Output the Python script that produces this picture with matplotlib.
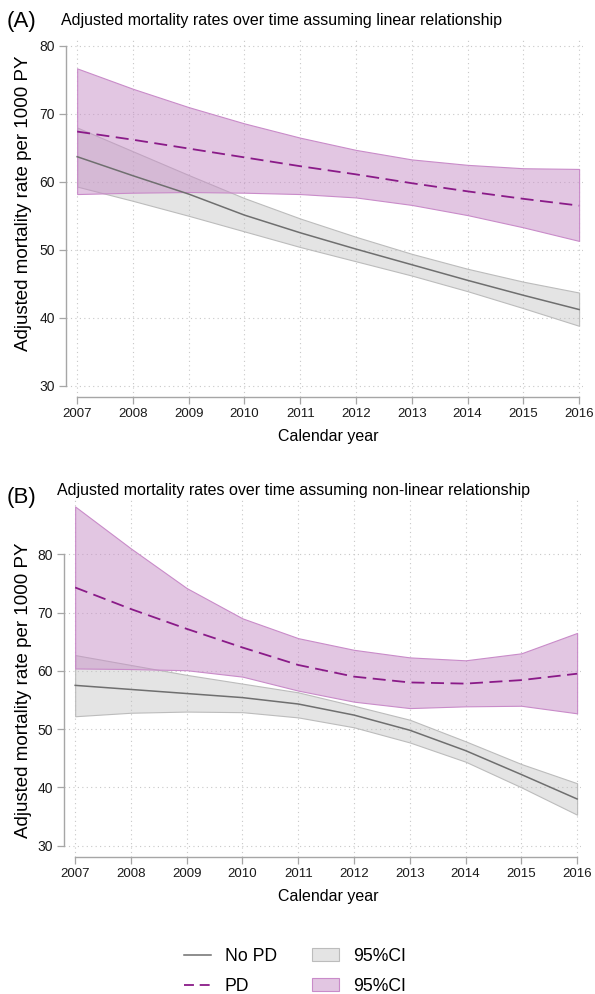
import matplotlib
matplotlib.use('Agg')
import matplotlib.pyplot as plt
from matplotlib.lines import Line2D
from matplotlib.patches import Patch

plt.rcParams['font.family'] = ['Liberation Sans', 'DejaVu Sans']

years = [2007, 2008, 2009, 2010, 2011, 2012, 2013, 2014, 2015, 2016]
yticks = [30, 40, 50, 60, 70, 80]

# (A) linear relationship
nopd_a = [63.7, 60.9, 58.2, 55.1, 52.5, 50.1, 47.8, 45.5, 43.3, 41.2]
nopd_a_lo = [59.3, 57.2, 55.0, 52.7, 50.4, 48.3, 46.2, 43.9, 41.4, 38.8]
nopd_a_hi = [68.0, 64.5, 61.0, 57.6, 54.6, 51.9, 49.4, 47.2, 45.3, 43.7]
pd_a = [67.4, 66.2, 64.9, 63.6, 62.3, 61.1, 59.8, 58.6, 57.5, 56.5]
pd_a_lo = [58.2, 58.4, 58.5, 58.4, 58.2, 57.7, 56.6, 55.1, 53.3, 51.3]
pd_a_hi = [76.7, 73.7, 71.0, 68.6, 66.5, 64.7, 63.3, 62.5, 62.0, 61.9]

# (B) non-linear relationship
nopd_b = [57.5, 56.8, 56.1, 55.4, 54.3, 52.4, 49.8, 46.3, 42.2, 38.0]
nopd_b_lo = [52.2, 52.8, 53.0, 52.9, 52.0, 50.3, 47.7, 44.4, 40.0, 35.3]
nopd_b_hi = [62.7, 61.0, 59.3, 57.8, 56.3, 54.0, 51.6, 47.9, 44.0, 40.7]
pd_b = [74.3, 70.6, 67.2, 64.0, 61.0, 59.0, 58.0, 57.8, 58.4, 59.5]
pd_b_lo = [60.4, 60.3, 60.1, 59.0, 56.6, 54.7, 53.6, 53.9, 54.0, 52.7]
pd_b_hi = [88.2, 81.0, 74.2, 69.0, 65.6, 63.6, 62.3, 61.8, 63.0, 66.5]

grey_line = '#6f6f6f'
grey_fill = (0.75, 0.75, 0.75, 0.42)
grey_edge = '#bcbcbc'
pd_line = '#8a1a88'
pd_fill = (0.78, 0.56, 0.78, 0.5)
pd_edge = '#c98bc9'
axis_col = '#a6a6a6'

W, H = 595, 994
fig = plt.figure(figsize=(W / 100, H / 100), dpi=100)


def make_axes(left, right, top, bottom):
    return fig.add_axes([left / W, 1 - bottom / H, (right - left) / W, (bottom - top) / H])


def draw_panel(ax, lo, hi, nopd, plo, phi, pd, ylim, letter, title, ly, tx, ty, xlab_y, ylab_y):
    ax.fill_between(years, lo, hi, facecolor=grey_fill, edgecolor=grey_edge, lw=0.8, zorder=2)
    ax.fill_between(years, plo, phi, facecolor=pd_fill, edgecolor=pd_edge, lw=0.8, zorder=3)
    ax.plot(years, nopd, color=grey_line, lw=1.1, zorder=4)
    ax.plot(years, pd, color=pd_line, lw=1.3, dashes=(7.2, 3.6), zorder=5)

    ax.set_xlim(2006.80, 2016.07)
    ax.set_ylim(*ylim)
    ax.set_xticks(years)
    ax.set_yticks(yticks)
    ax.grid(True, color='#c8c8c8', linestyle=(0, (1, 3)), linewidth=0.8, zorder=0)
    for s in ['top', 'right']:
        ax.spines[s].set_visible(False)
    for s in ['left', 'bottom']:
        ax.spines[s].set_color(axis_col)
        ax.spines[s].set_linewidth(1.0)
    ax.spines['left'].set_bounds(30, 80)
    ax.spines['bottom'].set_bounds(2007, 2016)
    ax.tick_params(colors=axis_col, labelcolor='#1a1a1a', length=5, width=0.9, pad=3)
    ax.tick_params(axis='x', labelsize=9.5)
    ax.tick_params(axis='y', labelsize=10)

    fig.text(7 / W, 1 - ly / H, letter, fontsize=16, va='center', ha='left')
    fig.text(tx / W, 1 - ty / H, title, fontsize=11.5, va='center', ha='left')
    fig.text(328 / W, 1 - xlab_y / H, 'Calendar year', fontsize=11.5, va='center', ha='center')
    fig.text(24 / W, 1 - ylab_y / H, 'Adjusted mortality rate per 1000 PY', fontsize=13.5,
             rotation=90, va='center', ha='center')


ax1 = make_axes(66, 583, 39, 397)
draw_panel(ax1, nopd_a_lo, nopd_a_hi, nopd_a, pd_a_lo, pd_a_hi, pd_a, (28.32, 81.03),
           '(A)', 'Adjusted mortality rates over time assuming linear relationship',
           22, 61, 21, 436, 203)

ax2 = make_axes(64, 581, 498, 857)
draw_panel(ax2, nopd_b_lo, nopd_b_hi, nopd_b, pd_b_lo, pd_b_hi, pd_b, (28.04, 89.66),
           '(B)', 'Adjusted mortality rates over time assuming non-linear relationship',
           497, 57, 490, 896, 690)

handles = [
    Line2D([], [], color=grey_line, lw=1.1),
    Line2D([], [], color=pd_line, lw=1.3, dashes=(5.5, 3.2)),
    Patch(facecolor=grey_fill, edgecolor=grey_edge, lw=0.8),
    Patch(facecolor=pd_fill, edgecolor=pd_edge, lw=0.8),
]
labels = ['No PD', 'PD', '95%CI', '95%CI']
fig.legend(handles, labels, ncol=2, loc='center', bbox_to_anchor=(0.496, 1 - 971.3 / H),
           frameon=False, fontsize=12.7, handlelength=1.5, handletextpad=0.8,
           columnspacing=2.0, labelspacing=0.74)

fig.savefig('out.png', dpi=100)
